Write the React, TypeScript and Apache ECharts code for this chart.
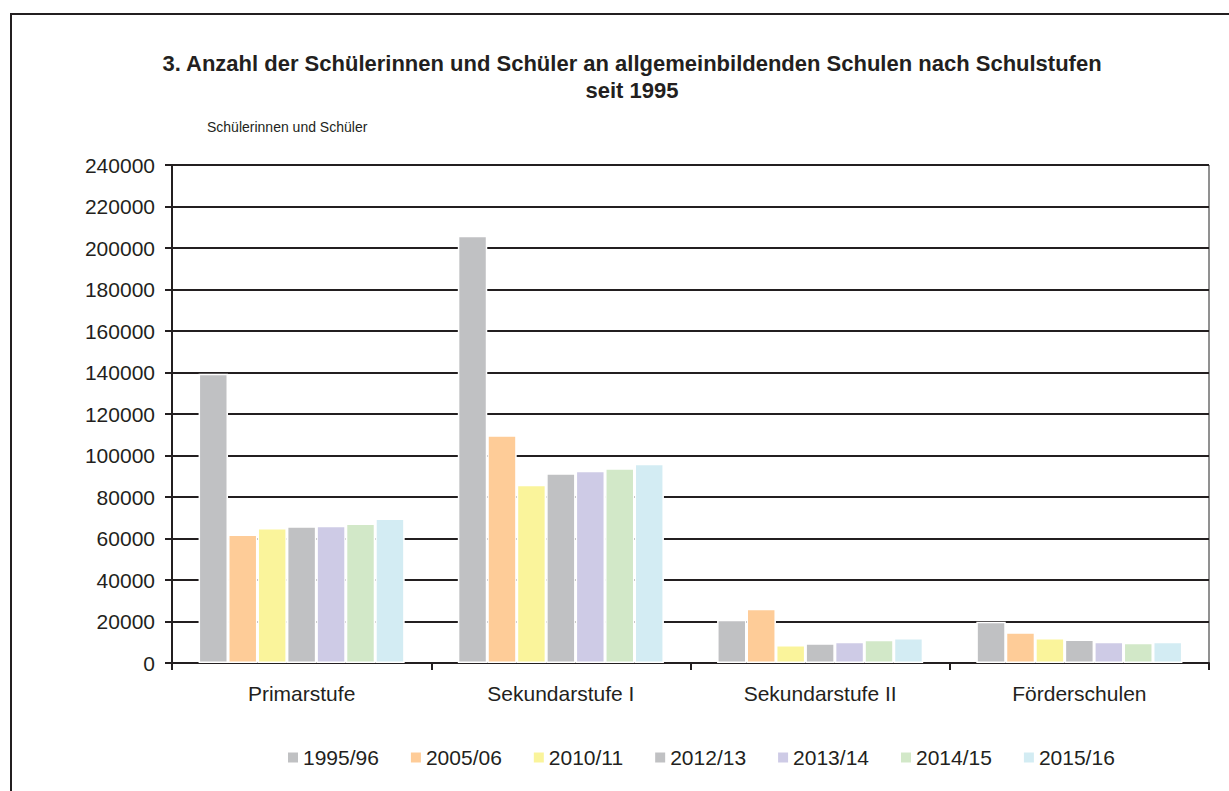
import React, { useEffect, useRef } from "react";
import * as echarts from "echarts";

const categories = ["Primarstufe", "Sekundarstufe I", "Sekundarstufe II", "Förderschulen"];
const years = ["1995/96", "2005/06", "2010/11", "2012/13", "2013/14", "2014/15", "2015/16"];
const v1995 = [139400, 205900, 20800, 19900];
const v2005 = [61900, 109800, 26100, 14800];
const v2010 = [65100, 85900, 8700, 12100];
const v2012 = [65900, 91400, 9500, 11300];
const v2013 = [66100, 92700, 10300, 10200];
const v2014 = [67200, 93800, 11200, 9800];
const v2015 = [69600, 96000, 12100, 10200];
const seriesValues = [v1995, v2005, v2010, v2012, v2013, v2014, v2015];
const colors = ["#C0C1C3", "#FECC98", "#FAF49B", "#C0C1C3", "#CECBE6", "#D2E8C8", "#D3ECF3"];
const titleText = "3. Anzahl der Schülerinnen und Schüler an allgemeinbildenden Schulen nach Schulstufen\nseit 1995";
const unitText = "Schülerinnen und Schüler";

const FONT = "'Liberation Sans', Arial, sans-serif";
const INK = "#231f20";
const G_LEFT = 172;
const G_TOP = 165;
const G_RIGHT = 1209;
const G_BOTTOM = 663;

export default function App() {
  const ref = useRef<HTMLDivElement>(null);
  useEffect(() => {
    if (!ref.current) return;
    const chart = echarts.init(ref.current, undefined, { renderer: "svg" });
    chart.setOption({
      animation: false,
      backgroundColor: "#ffffff",
      color: colors,
      title: {
        text: titleText,
        left: 627,
        top: 45,
        textAlign: "center",
        textStyle: {
          fontFamily: FONT,
          fontSize: 22,
          fontWeight: "bold",
          color: INK,
          lineHeight: 27,
          align: "center",
        },
      },
      legend: {
        data: years,
        left: 283,
        top: 742,
        itemWidth: 10,
        itemHeight: 10,
        itemGap: 32,
        itemStyle: { borderWidth: 0 },
        icon: "rect",
        textStyle: { fontFamily: FONT, fontSize: 21, color: INK },
      },
      grid: {
        left: G_LEFT,
        top: G_TOP,
        width: G_RIGHT - G_LEFT,
        height: G_BOTTOM - G_TOP,
        containLabel: false,
      },
      xAxis: {
        type: "category",
        data: categories,
        axisLine: { lineStyle: { color: INK, width: 2 } },
        axisTick: { show: true, length: 7, lineStyle: { color: INK, width: 2 } },
        axisLabel: { fontFamily: FONT, fontSize: 21, color: INK, margin: 20 },
      },
      yAxis: {
        type: "value",
        min: 0,
        max: 240000,
        interval: 20000,
        axisLine: { show: true, lineStyle: { color: INK, width: 2 } },
        axisTick: { show: true, length: 7, lineStyle: { color: INK, width: 2 } },
        axisLabel: {
          fontFamily: FONT,
          fontSize: 21,
          color: INK,
          margin: 17,
          formatter: (v: number) => String(v),
        },
        splitLine: { show: true, lineStyle: { color: INK, width: 2 } },
      },
      graphic: [
        {
          type: "rect",
          shape: { x: 11, y: 14, width: 1240, height: 800 },
          style: { fill: "none", stroke: INK, lineWidth: 2 },
          silent: true,
        },
        {
          type: "line",
          shape: { x1: G_RIGHT, y1: G_TOP, x2: G_RIGHT, y2: G_BOTTOM },
          style: { stroke: "#6d6d6d", lineWidth: 1.5 },
          silent: true,
        },
        {
          type: "text",
          x: 207,
          y: 127,
          style: {
            text: unitText,
            fontFamily: FONT,
            fontSize: 14,
            fill: INK,
            verticalAlign: "middle",
          },
          silent: true,
        },
      ],
      series: years.map((y, i) => ({
        name: y,
        type: "bar",
        data: seriesValues[i],
        barGap: "0%",
        barCategoryGap: "20.5%",
        itemStyle: { color: colors[i], borderColor: "#ffffff", borderWidth: 1.5 },
      })),
    });
    return () => chart.dispose();
  }, []);
  return (
    <div
      ref={ref}
      style={{ position: "fixed", left: 0, top: 0, width: 1229, height: 791, background: "#fff" }}
    />
  );
}
